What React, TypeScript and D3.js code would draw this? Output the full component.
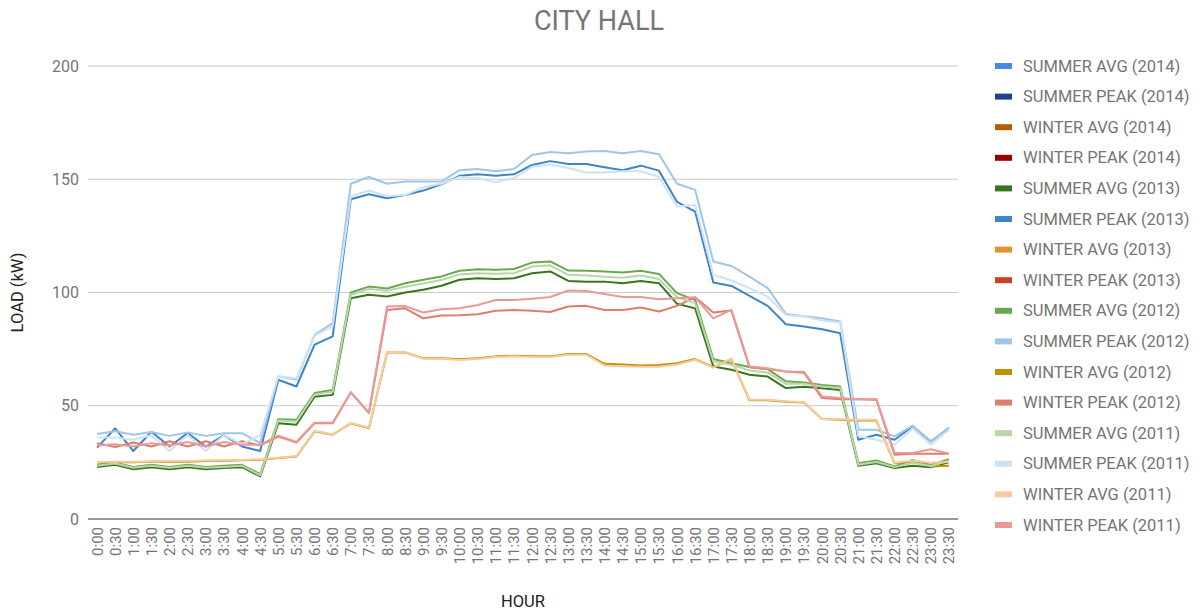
import { useMemo } from 'react'
import * as d3 from 'd3'

const hours = [
  '0:00', '0:30', '1:00', '1:30', '2:00', '2:30', '3:00', '3:30', '4:00', '4:30',
  '5:00', '5:30', '6:00', '6:30', '7:00', '7:30', '8:00', '8:30', '9:00', '9:30',
  '10:00', '10:30', '11:00', '11:30', '12:00', '12:30', '13:00', '13:30', '14:00', '14:30',
  '15:00', '15:30', '16:00', '16:30', '17:00', '17:30', '18:00', '18:30', '19:00', '19:30',
  '20:00', '20:30', '21:00', '21:30', '22:00', '22:30', '23:00', '23:30'
]

const seriesNames = [
  'SUMMER AVG (2014)', 'SUMMER PEAK (2014)', 'WINTER AVG (2014)', 'WINTER PEAK (2014)',
  'SUMMER AVG (2013)', 'SUMMER PEAK (2013)', 'WINTER AVG (2013)', 'WINTER PEAK (2013)',
  'SUMMER AVG (2012)', 'SUMMER PEAK (2012)', 'WINTER AVG (2012)', 'WINTER PEAK (2012)',
  'SUMMER AVG (2011)', 'SUMMER PEAK (2011)', 'WINTER AVG (2011)', 'WINTER PEAK (2011)'
]

const seriesColors = [
  '#4a86e8', '#1c4587', '#b45f06', '#990000',
  '#38761d', '#3d85c6', '#e69138', '#cc4125',
  '#6aa84f', '#9fc5e8', '#bf9000', '#dd7e6b',
  '#b6d7a8', '#cfe2f3', '#f9cb9c', '#ea9999'
]

// 2014 and winter 2013 have no readings
const summerAvg2013 = [
  22.9, 23.9, 22, 22.9, 22, 22.9, 22, 22.5, 22.9, 18.8,
  42.3, 41.6, 54, 54.8, 97.5, 99, 98.2,
  100, 101.2, 103, 105.6, 106.3, 106, 106.3, 108.5, 109.3, 105.1, 104.8, 104.8, 104.1, 105.1, 104.1, 95,
  93, 67.3, 65.9, 63.7, 62.9, 57.8, 58.4, 57.7, 57,
  23.5, 24.6, 22.5, 23.5, 22.9, 25
]
const summerPeak2013 = [
  31.5, 40, 30, 38.5, 32, 38, 32, 37, 32, 30,
  61.5, 58.5, 77, 80.6, 141.2, 143.4, 141.6,
  143, 145, 147.8, 151.5, 152.2, 151.5, 152.2, 156.3, 158, 156.7, 156.7, 155.3, 154, 156, 153.8, 140,
  135.7, 104.4, 102.9, 98.5, 94.1, 86, 85, 83.8, 82,
  35, 37.2, 35, 40.9, 34.2, 40.1
]
const summerAvg2012 = [
  23.9, 24.9, 23, 23.9, 23, 23.9, 23, 23.5, 23.9, 19.8,
  44, 43.8, 55.6, 57, 100, 102.6, 101.8,
  104.1, 105.6, 107.1, 109.6, 110.3, 110, 110.4, 113.2, 113.7, 109.7, 109.6, 109.3, 108.8, 109.6, 108.2, 99.7,
  96.7, 70.6, 68.8, 67.1, 66.2, 60.8, 60.3, 59.2, 58.5,
  24.6, 25.8, 23.2, 26.1, 23.9, 26.4
]
const summerPeak2012 = [
  37.5, 38.7, 37.2, 38.4, 36.7, 38.2, 36.7, 37.9, 37.9, 33.5,
  63, 61.5, 81.3, 86.5, 148, 151, 148,
  149, 149, 149, 154, 154.5, 153.5, 154.5, 160.7, 162, 161.5, 162.3, 162.5, 161.5, 162.5, 161, 148,
  145.3, 113.7, 111.7, 107, 101.9, 90.6, 89.5, 88.6, 87.2,
  39.4, 39.4, 36.5, 41.2, 34.2, 40.1
]
const winterAvg2012 = [
  25, 25.2, 25, 25.3, 25.4, 25.3, 25.6, 25.7, 25.9, 26.2,
  26.9, 27.6, 38.7, 37.2, 42.3, 40.1, 73.5,
  73.5, 71, 71, 70.5, 71, 71.8, 72.1, 71.8, 71.8, 72.8, 72.8, 68.5, 68.2, 67.8, 68, 68.8,
  70.6, 67, 70.6, 52.4, 52.4, 51.8, 51.4, 44.1, 43.8,
  43.5, 43.5, 24.6, 25.4, 23.2, 23.5
]
const winterPeak2012 = [
  33.5, 31.8, 33.8, 32, 34.3, 32, 34.3, 32, 34.3, 32.5,
  36.4, 33.8, 42.3, 42.3, 55.9, 46.8, 92.3,
  93, 88.6, 89.8, 90, 90.4, 91.9, 92.3, 91.9, 91.4, 93.8, 94.1, 92.3, 92.3, 93.4, 91.6, 94.1,
  97.9, 91.2, 92, 67, 66.2, 65.1, 64.6, 53.4, 52.9,
  52.9, 52.6, 28.4, 28.8, 28.8, 28.8
]
const summerAvg2011 = [
  23.5, 24.5, 22.6, 23.5, 22.6, 23.5, 22.6, 23, 23.5, 19.3,
  43.5, 43, 55, 56.2, 99, 101.5, 100.8,
  102.5, 104, 105.5, 108, 108.5, 108.3, 108.5, 111.5, 112, 107.8, 107.5, 107, 106.5, 107.5, 106, 97.9,
  95.3, 69.6, 68.1, 65.6, 64.7, 59.7, 59.7, 58.5, 57.8,
  24, 25.2, 22.9, 24.8, 23.4, 25.7
]
const summerPeak2011 = [
  36, 36, 35, 37, 30, 37, 30, 37, 33, 37,
  63, 62, 81, 85, 142.5, 145, 142.5,
  143, 146.5, 148, 151, 150.5, 148.7, 150.5, 155.5, 156.5, 155, 153, 153, 153.5, 153.5, 151, 138,
  138.6, 107.8, 105.3, 101.9, 98.2, 90.1, 89.4, 87.6, 86.8,
  36.5, 35, 32.8, 40.1, 32.8, 39.4
]
const winterAvg2011 = [
  25.2, 25.3, 25.3, 25.4, 25.6, 25.6, 25.8, 25.9, 26.1, 26.4,
  27, 27.8, 38.9, 37.3, 42.4, 40.3, 73.6,
  73.6, 70.8, 70.8, 70.2, 70.6, 71.5, 71.8, 71.5, 71.5, 72.5, 72.5, 67.8, 67.4, 67.2, 67.2, 68.2,
  70.3, 66.8, 70.8, 52.6, 52.6, 52, 51.5, 44.2, 44,
  43.8, 43.8, 24.8, 25.8, 24.8, 25.2
]
const winterPeak2011 = [
  32.5, 33, 32, 33.5, 32.5, 34, 32, 34, 32.8, 32.8,
  36.8, 34, 42.5, 42.5, 56, 47, 93.8,
  94, 91.2, 92.6, 93, 94.5, 96.7, 96.7, 97.2, 98, 100.9, 100.7, 99.3, 98, 98, 97, 97.5,
  97.9, 88.6, 92.3, 67.3, 66.6, 65.1, 65, 54.1, 53.4,
  52.9, 52.9, 29.1, 29.1, 30.8, 28.8
]

const seriesValues: (number[] | null)[] = [
  null, null, null, null,
  summerAvg2013, summerPeak2013, null, null,
  summerAvg2012, summerPeak2012, winterAvg2012, winterPeak2012,
  summerAvg2011, summerPeak2011, winterAvg2011, winterPeak2011
]

const yTicks = [0, 50, 100, 150, 200]

const W = 1199
const H = 613
const margin = { left: 88, right: 241, top: 66, bottom: 94 }
const FONT = 'Roboto, Arial, sans-serif'

export default function App() {
  const x = useMemo(() => d3.scalePoint<string>()
    .domain(hours)
    .range([margin.left, W - margin.right])
    .padding(0.5), [])

  const y = useMemo(() => d3.scaleLinear()
    .domain([0, 200])
    .range([H - margin.bottom, margin.top]), [])

  const line = d3.line<number>()
    .x((_, i) => x(hours[i]) as number)
    .y(d => y(d))

  return (
    <svg width={W} height={H} style={{ position: 'fixed', left: 0, top: 0, background: '#fff' }}
      fontFamily={FONT}>
      <text x={599} y={30} textAnchor="middle" fontSize={27} fill="#757575">CITY HALL</text>

      {/* grid + y ticks */}
      {yTicks.map(t => (
        <g key={t}>
          {t !== 0 && (
            <line x1={margin.left} x2={W - margin.right} y1={y(t)} y2={y(t)} stroke="#cccccc" strokeWidth={1} />
          )}
          <text x={margin.left - 9} y={y(t) + 5.5} textAnchor="end" fontSize={16} fill="#757575">{t}</text>
        </g>
      ))}

      {/* lines */}
      {seriesValues.map((vals, i) => vals && (
        <path key={seriesNames[i]} d={line(vals) || ''} fill="none" stroke={seriesColors[i]}
          strokeWidth={2} strokeLinejoin="round" />
      ))}

      <line x1={margin.left} x2={W - margin.right} y1={y(0)} y2={y(0)} stroke="#333333" strokeWidth={1} />

      {/* x tick labels */}
      {hours.map(h => (
        <text key={h} transform={`translate(${(x(h) as number) + 5.5},${y(0) + 8}) rotate(-90)`}
          textAnchor="end" fontSize={15} fill="#757575">{h}</text>
      ))}

      <text x={(margin.left + W - margin.right) / 2} y={607} textAnchor="middle" fontSize={16.5} fill="#222">HOUR</text>
      <text transform={`translate(23,${(margin.top + H - margin.bottom) / 2}) rotate(-90)`}
        textAnchor="middle" fontSize={16.5} fill="#222">LOAD (kW)</text>

      {/* legend */}
      {seriesNames.map((name, i) => (
        <g key={name} transform={`translate(995,${66 + i * 30.6})`}>
          <rect x={0} y={-3} width={17} height={6} fill={seriesColors[i]} />
          <text x={28} y={5.5} fontSize={16.5} fill="#757575">{name}</text>
        </g>
      ))}
    </svg>
  )
}
